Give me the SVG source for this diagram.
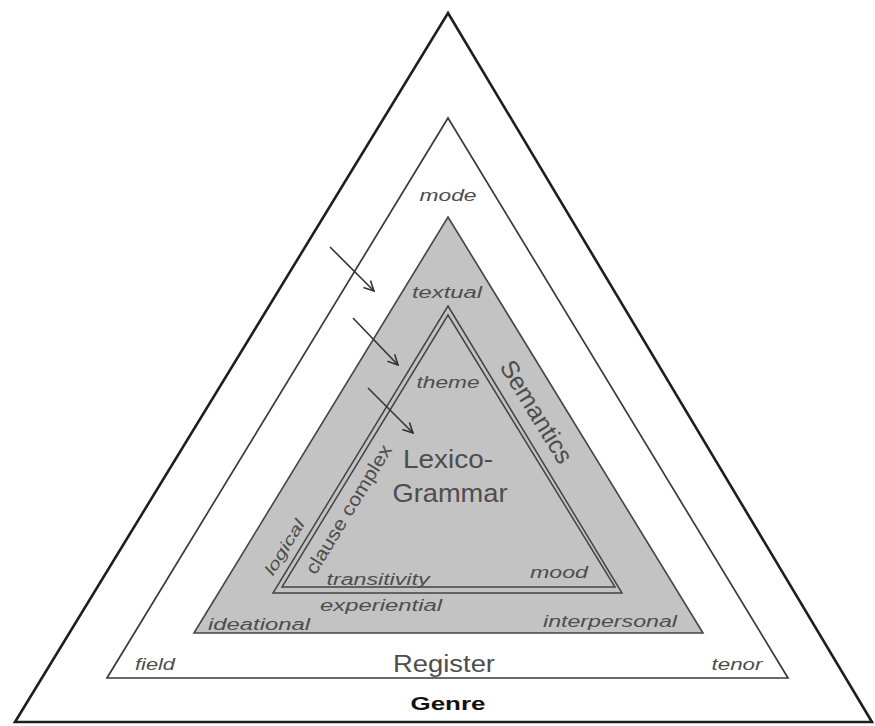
<svg xmlns="http://www.w3.org/2000/svg" width="875" height="726" viewBox="0 0 875 726">
<defs>
<marker id="arr" viewBox="0 0 12 12" refX="11" refY="6" markerWidth="12" markerHeight="12" markerUnits="userSpaceOnUse" orient="auto">
<path d="M1,1 L11,6 L1,11" fill="none" stroke="#333" stroke-width="1.6"/>
</marker>
<style>
.lbl{font-family:"Liberation Sans",Arial,sans-serif;fill:#4d4d4d;text-anchor:middle}
.it{font-style:italic;font-size:16px}
.big{font-size:25px}
.tri{stroke-linejoin:miter}
</style>
</defs>
<rect width="875" height="726" fill="#ffffff"/>
<g id="genre">
<polygon class="tri" points="448,13 872,722 15,722" fill="#ffffff" stroke="#1e1e1e" stroke-width="2.6"/>
<text class="lbl" x="448" y="710" font-size="18" font-weight="bold" fill="#111" style="fill:#111" textLength="75" lengthAdjust="spacingAndGlyphs">Genre</text>
</g>
<g id="register">
<polygon class="tri" points="448,118 788,678 107,678" fill="#ffffff" stroke="#3a3a3a" stroke-width="1.7"/>
<text class="lbl it" x="448" y="201" textLength="57" lengthAdjust="spacingAndGlyphs">mode</text>
<text class="lbl it" x="155" y="670" textLength="40" lengthAdjust="spacingAndGlyphs">field</text>
<text class="lbl it" x="737" y="670" textLength="51" lengthAdjust="spacingAndGlyphs">tenor</text>
<text class="lbl" x="444" y="672" font-size="23" textLength="102" lengthAdjust="spacingAndGlyphs">Register</text>
</g>
<g id="semantics">
<polygon class="tri" points="448,217 703,633 194,633" fill="#c3c3c3" stroke="#444" stroke-width="1.6"/>
<text class="lbl it" x="447" y="298" font-size="17" textLength="70" lengthAdjust="spacingAndGlyphs">textual</text>
<text class="lbl it" x="259" y="630" font-size="17" textLength="102" lengthAdjust="spacingAndGlyphs">ideational</text>
<text class="lbl it" x="610" y="627" font-size="17" textLength="134" lengthAdjust="spacingAndGlyphs">interpersonal</text>
<text class="lbl it" x="381" y="611" font-size="17" textLength="122" lengthAdjust="spacingAndGlyphs">experiential</text>
<text class="lbl it" transform="translate(284,547) rotate(-58.6)" x="0" y="6" font-size="17" textLength="62" lengthAdjust="spacingAndGlyphs">logical</text>
<text class="lbl big" transform="translate(536,412) rotate(58.6)" x="0" y="8" textLength="116" lengthAdjust="spacingAndGlyphs">Semantics</text>
</g>
<g id="lexicogrammar">
<polygon class="tri" points="448,306 622,593 273,593" fill="none" stroke="#444" stroke-width="1.5"/>
<polygon class="tri" points="448,315 615,587 282,587" fill="none" stroke="#444" stroke-width="1.5"/>
<text class="lbl it" x="448" y="388" font-size="17" textLength="63" lengthAdjust="spacingAndGlyphs">theme</text>
<text class="lbl big" x="448" y="468" textLength="90" lengthAdjust="spacingAndGlyphs">Lexico-</text>
<text class="lbl big" x="450" y="502" textLength="115" lengthAdjust="spacingAndGlyphs">Grammar</text>
<text class="lbl" transform="translate(348,509) rotate(-58.6)" x="0" y="7" font-size="19" textLength="148" lengthAdjust="spacingAndGlyphs">clause complex</text>
<text class="lbl it" x="378" y="585" font-size="17" textLength="103" lengthAdjust="spacingAndGlyphs">transitivity</text>
<text class="lbl it" x="559" y="578" font-size="17" textLength="58" lengthAdjust="spacingAndGlyphs">mood</text>
</g>
<g id="connectors" stroke="#333" stroke-width="1.6" fill="none">
<line x1="330" y1="247" x2="374" y2="291" marker-end="url(#arr)"/>
<line x1="353" y1="318" x2="398" y2="365" marker-end="url(#arr)"/>
<line x1="368" y1="388" x2="413" y2="433" marker-end="url(#arr)"/>
</g>
</svg>
